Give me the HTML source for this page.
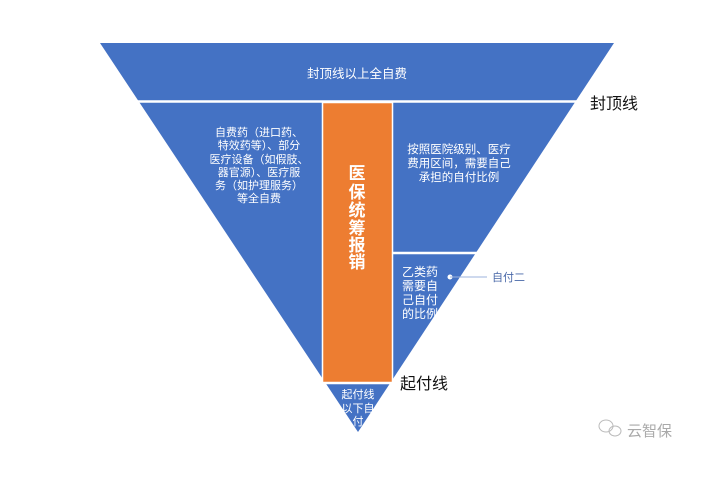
<!DOCTYPE html>
<html><head><meta charset="utf-8"><style>
html,body{margin:0;padding:0;background:#fff;}
svg text{font-family:"Liberation Sans","Noto Sans CJK SC",sans-serif;}
</style></head><body>
<svg width="724" height="472" viewBox="0 0 724 472" xmlns="http://www.w3.org/2000/svg">
<polygon points="100,43 614,43 358,432" fill="#4472C4"/>
<line x1="100" y1="101.5" x2="620" y2="101.5" stroke="#fff" stroke-width="2.5"/>
<line x1="393" y1="253" x2="480" y2="253" stroke="#fff" stroke-width="2.5"/>
<line x1="320" y1="383" x2="395" y2="383" stroke="#fff" stroke-width="2.5"/>
<rect x="322.5" y="102.5" width="70" height="280" fill="#ED7D31" stroke="#fff" stroke-width="1.5"/>
<g fill="#fff" font-size="12.5" text-anchor="middle">
<text x="357" y="78">封顶线以上全自费</text>
</g>
<g fill="#fff" font-size="11" text-anchor="middle">
<text x="259" y="136">自费药（进口药、</text>
<text x="259" y="149">特效药等）、部分</text>
<text x="259" y="163">医疗设备（如假肢、</text>
<text x="259" y="176">器官源）、医疗服</text>
<text x="259" y="189">务（如护理服务）</text>
<text x="259" y="202">等全自费</text>
</g>
<g fill="#fff" font-size="11.5" text-anchor="middle">
<text x="459" y="153">按照医院级别、医疗</text>
<text x="459" y="167">费用区间，需要自己</text>
<text x="459" y="181">承担的自付比例</text>
</g>
<g fill="#fff" font-size="17" font-weight="bold" text-anchor="middle">
<text x="357" y="179">医</text><text x="357" y="198">保</text><text x="357" y="216">统</text>
<text x="357" y="234">筹</text><text x="357" y="251">报</text><text x="357" y="268">销</text>
</g>
<g fill="#fff" font-size="12">
<text x="402" y="276">乙类药</text><text x="402" y="290">需要自</text>
<text x="402" y="304">己自付</text><text x="402" y="318">的比例</text>
</g>
<g fill="#fff" font-size="11" text-anchor="middle">
<text x="358" y="398">起付线</text><text x="358" y="412">以下自</text><text x="358" y="425">付</text>
</g>
<circle cx="450" cy="277" r="2.5" fill="#fff"/>
<line x1="450" y1="277" x2="487" y2="277" stroke="#9DB3DC" stroke-width="1"/>
<text x="492" y="281" font-size="11" fill="#4A68A8">自付二</text>
<text x="590" y="109" font-size="16" fill="#111">封顶线</text>
<text x="400" y="389" font-size="16" fill="#111">起付线</text>
<text x="627" y="436" font-size="15" fill="#aaa">云智保</text>
<g fill="none" stroke="#bbb" stroke-width="1">
<ellipse cx="606" cy="426" rx="7" ry="6"/><ellipse cx="615" cy="431" rx="6" ry="5"/>
</g>
</svg>
</body></html>
